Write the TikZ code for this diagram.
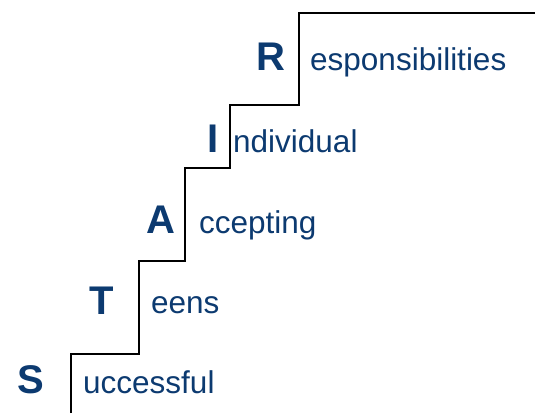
\documentclass[tikz,border=0pt]{standalone}
\usepackage{fontspec}
\setmainfont{Liberation Sans}
\usepackage{xcolor}
\definecolor{stairblue}{RGB}{12,58,112}
\usetikzlibrary{positioning}

\begin{document}
\begin{tikzpicture}[x=1pt, y=1pt]
        \tikzstyle{initial}=[text=stairblue, font=\fontsize{40}{44}\selectfont\bfseries, anchor=base, inner sep=0pt]
        \tikzstyle{word}=[text=stairblue, font=\fontsize{31.5}{36}\selectfont, anchor=base west, inner sep=0pt]

        \useasboundingbox (0,0) rectangle (535,413);

        % Stair corners
        \coordinate (s0) at (71,0);
        \coordinate (s1) at (71,59);
        \coordinate (s2) at (139,59);
        \coordinate (s3) at (139,152);
        \coordinate (s4) at (185,152);
        \coordinate (s5) at (185,245);
        \coordinate (s6) at (230,245);
        \coordinate (s7) at (230,308);
        \coordinate (s8) at (299,308);
        \coordinate (s9) at (299,400);
        \coordinate (s10) at (535,400);

        % Draw the staircase
        \draw[line width=1.3pt] (s0) -- (s1) -- (s2) -- (s3) -- (s4) -- (s5) -- (s6) -- (s7) -- (s8) -- (s9) -- (s10);

        % Initials
        \node[initial] (S) at (30.5,20) {S};
        \node[initial] (T) at (101.5,99) {T};
        \node[initial] (A) at (161,180) {A};
        \node[initial] (I) at (213.5,261) {I};
        \node[initial] (R) at (271,342) {R};

        % Rest of the words
        \node[word] (successful) at (83,20) {uccessful};
        \node[word] (teens) at (151,100) {eens};
        \node[word] (accepting) at (199,180) {ccepting};
        \node[word] (individual) at (233,261) {ndividual};
        \node[word] (responsibilities) at (310,342) {esponsibilities};
\end{tikzpicture}
\end{document}
